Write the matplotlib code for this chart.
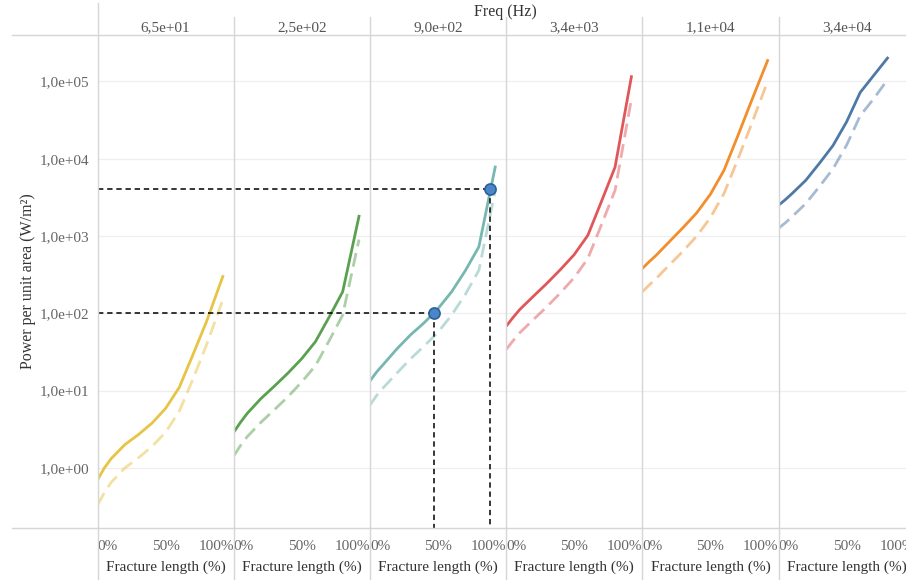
import numpy as np
import matplotlib.pyplot as plt
from matplotlib.lines import Line2D
from matplotlib.ticker import FixedLocator, FuncFormatter, NullLocator

plt.rcParams['font.family'] = ['Liberation Serif', 'DejaVu Serif']

# frequency panels
freqs = ['6,5e+01', '2,5e+02', '9,0e+02', '3,4e+03', '1,1e+04', '3,4e+04']
colors = ['#E8C444', '#59A14F', '#76B7B2', '#E15759', '#F28E2B', '#4E79A7']

# fracture length (fraction), last panel stops at 0.8
frac = [0, 0.05, 0.1, 0.2, 0.3, 0.4, 0.5, 0.6, 0.7, 0.8, 0.92]
frac_last = [0, 0.05, 0.1, 0.2, 0.3, 0.4, 0.5, 0.6, 0.7, 0.8]

power_solid = [
    [0.70, 1.0, 1.32, 2.0, 2.7, 3.8, 5.9, 11, 29, 78, 300],
    [2.9, 3.9, 5.1, 7.9, 11.5, 17, 26, 43, 89, 190, 1800],
    [13.3, 17.5, 22, 35, 53, 76, 115, 190, 355, 725, 7800],
    [68, 88, 112, 166, 245, 370, 575, 1020, 2800, 7800, 115000],
    [380, 465, 560, 850, 1290, 2000, 3470, 7100, 19500, 55000, 186000],
    [2500, 2950, 3550, 5250, 8700, 14800, 30000, 72000, 120000, 200000],
]
power_dashed = [
    [0.33, 0.48, 0.65, 1.0, 1.35, 1.9, 2.9, 5.4, 14, 39, 150],
    [1.43, 1.95, 2.55, 3.9, 5.7, 8.4, 13, 21, 44, 95, 900],
    [6.5, 8.7, 11, 17, 26, 38, 57, 95, 175, 360, 3900],
    [34, 44, 56, 83, 122, 185, 290, 510, 1400, 3900, 59000],
    [190, 232, 280, 425, 640, 1000, 1730, 3550, 9700, 27500, 100000],
    [1260, 1480, 1780, 2630, 4350, 7400, 15000, 36000, 60000, 105000],
]

# highlighted points in the 9,0e+02 panel
mark_frac = [0.47, 0.885]
mark_power = [100, 4000]

W, H = 906, 580
fig = plt.figure(figsize=(W / 100, H / 100), dpi=100)

left0, pw = 97.5, 136.2
top_px, bot_px = 35, 528
ymin, ymax = 10 ** -0.776, 10 ** 5.60
grid_c = '#efefef'
sep_c = '#d6d6d6'
fmt = FuncFormatter(lambda v, p: f"{v:.1e}".replace('.', ','))

axes = []
for i in range(6):
    ax = fig.add_axes([(left0 + i * pw) / W, 1 - bot_px / H, pw / W, (bot_px - top_px) / H])
    axes.append(ax)
    x = frac_last if i == 5 else frac
    ax.plot(x, power_solid[i], color=colors[i], lw=2, solid_joinstyle='round', zorder=3)
    ax.plot(x, power_dashed[i], color=colors[i], lw=2, alpha=0.5,
            dashes=(5, 2.5), zorder=2)
    ax.set_yscale('log')
    ax.set_ylim(ymin, ymax)
    ax.set_xlim(0, 1)
    ax.yaxis.set_major_locator(FixedLocator([1e0, 1e1, 1e2, 1e3, 1e4, 1e5]))
    ax.yaxis.set_minor_locator(NullLocator())
    ax.yaxis.set_major_formatter(fmt)
    ax.set_xticks([0, 0.5, 1.0])
    ax.set_xticks([0.5], minor=True)
    labs = ax.set_xticklabels(['0%', '50%', '100%'])
    for lab, ha in zip(labs, ['left', 'center', 'right']):
        lab.set_ha(ha)
    ax.tick_params(axis='both', length=0, labelsize=11, labelcolor='#666666')
    ax.tick_params(axis='x', pad=9)
    ax.grid(axis='y', which='major', color=grid_c, lw=0.9)
    ax.grid(axis='x', which='minor', color=grid_c, lw=0.9)
    ax.grid(axis='x', which='major', visible=False)
    ax.set_axisbelow(True)
    for s in ax.spines.values():
        s.set_visible(False)
    if i > 0:
        ax.tick_params(axis='y', labelleft=False)
    else:
        ax.tick_params(axis='y', pad=6)
    ax.set_xlabel('Fracture length (%)', fontsize=11, color='#333333', labelpad=5)
    ax.set_title(freqs[i], fontsize=11, color='#555555', pad=3)

# reference lines and points on the 9,0e+02 panel
ax3 = axes[2]
x_start = (98 - (left0 + 2 * pw)) / pw
for fx, py in zip(mark_frac, mark_power):
    ax3.plot([x_start, fx], [py, py], color='black', lw=1.1, dashes=(3.5, 2.5),
             clip_on=False, zorder=4)
    ax3.plot([fx, fx], [py, ymin], color='black', lw=1.1, dashes=(3.5, 2.5),
             clip_on=False, zorder=4)
ax3.plot(mark_frac, mark_power, 'o', ms=8, mfc='#4A86C8', mec='#2E5F96', mew=1.2,
         zorder=5, clip_on=False)

# separators
def fline(x0, y0, x1, y1):
    fig.add_artist(Line2D([x0 / W, x1 / W], [1 - y0 / H, 1 - y1 / H], color=sep_c, lw=1))

fline(left0, 3, left0, H)
for i in range(1, 6):
    xb = left0 + i * pw
    fline(xb, 17, xb, H)
fline(12, top_px, W, top_px)
fline(12, bot_px, W, bot_px)

fig.text(505 / W, 1 - 12 / H, 'Freq (Hz)', ha='center', va='center', fontsize=11.5,
         color='#333333')
fig.text(28 / W, 1 - (top_px + bot_px) / 2 / H, 'Power per unit area (W/m²)', rotation=90,
         ha='center', va='center', fontsize=11.5, color='#333333')

fig.savefig('out.png', dpi=100)
